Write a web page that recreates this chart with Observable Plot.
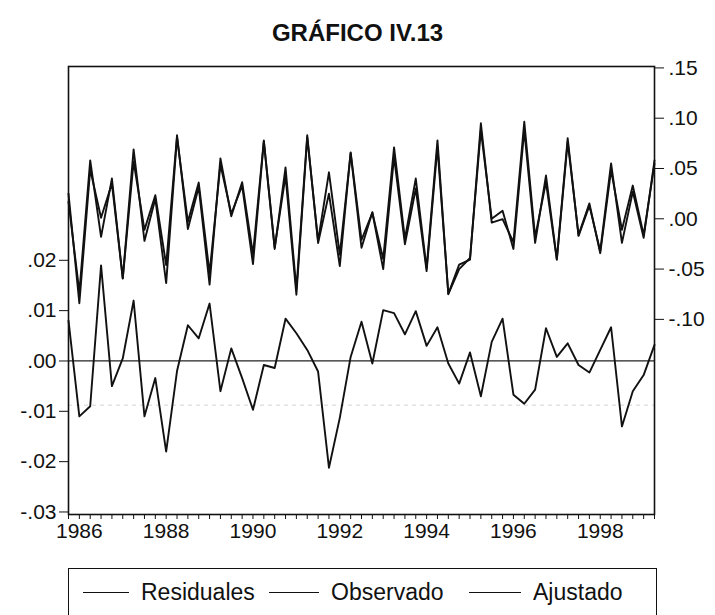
<!DOCTYPE html>
<html>
<head>
<meta charset="utf-8">
<script src="https://cdn.jsdelivr.net/npm/d3@7"></script>
<script src="https://cdn.jsdelivr.net/npm/@observablehq/plot@0.6"></script>
<style>
  html, body { margin: 0; padding: 0; background: #fff; }
  #wrap { position: relative; width: 715px; height: 615px; overflow: hidden; font-family: "Liberation Sans", Arial, sans-serif; }
  #title { position: absolute; top: 19px; left: 0; width: 715px; text-align: center; font-weight: bold; font-size: 24px; line-height: 28px; color: #111; }
  #chart { position: absolute; top: 0; left: 0; }
  #legend { position: absolute; left: 68px; top: 568px; width: 587px; height: 60px; border: 1.5px solid #111; }
  .item { position: absolute; top: 10px; display: flex; align-items: center; font-size: 23px; color: #111; }
  .swatch { display: inline-block; height: 0; border-top: 1.3px solid #111; margin-right: 12px; }
</style>
</head>
<body>
<div id="wrap">
  <div id="title">GRÁFICO IV.13</div>
  <div id="chart"></div>
  <div id="legend"></div>
</div>
<script>
// Quarterly sample: 1985Q4 .. 1999Q2
const startYear = 1985, startQuarter = 4;

const observed = [0.025, -0.084, 0.049, 0.001, 0.035, -0.059, 0.069, -0.022, 0.020, -0.064,
  0.081, -0.003, 0.036, -0.054, 0.054, 0.005, 0.033, -0.045, 0.077, -0.030,
  0.051, -0.070, 0.083, -0.024, 0.025, -0.047, 0.066, -0.021, 0.006, -0.040,
  0.071, -0.020, 0.040, -0.049, 0.078, -0.075, -0.050, -0.039, 0.088, 0.000,
  0.008, -0.030, 0.088, -0.024, 0.043, -0.040, 0.080, -0.017, 0.013, -0.032,
  0.055, -0.024, 0.027, -0.019, 0.058];

const fitted = [0.017, -0.073, 0.058, -0.018, 0.040, -0.0595, 0.057, -0.011, 0.0234, -0.046,
  0.083, -0.0101, 0.0315, -0.0654, 0.060, 0.0025, 0.0364, -0.0353, 0.0778, -0.0286,
  0.0426, -0.0755, 0.0808, -0.0219, 0.0462, -0.0357, 0.0652, -0.0288, 0.0065, -0.0501,
  0.0615, -0.0253, 0.0301, -0.052, 0.0713, -0.0745, -0.0455, -0.0407, 0.095, -0.0038,
  -0.0004, -0.0233, 0.0965, -0.0183, 0.0365, -0.0408, 0.0765, -0.0162, 0.0153, -0.0342,
  0.0483, -0.011, 0.033, -0.0162, 0.0548];

const residuals = [0.008, -0.011, -0.009, 0.019, -0.005, 0.0005, 0.012, -0.011, -0.0034, -0.018,
  -0.002, 0.0071, 0.0045, 0.0114, -0.006, 0.0025, -0.0034, -0.0097, -0.0008, -0.0014,
  0.0084, 0.0055, 0.0022, -0.0021, -0.0212, -0.0113, 0.0008, 0.0078, -0.0005, 0.0101,
  0.0095, 0.0053, 0.0099, 0.0030, 0.0067, -0.0005, -0.0045, 0.0017, -0.0070, 0.0038,
  0.0084, -0.0067, -0.0085, -0.0057, 0.0065, 0.0008, 0.0035, -0.0008, -0.0023, 0.0022,
  0.0067, -0.013, -0.006, -0.0028, 0.0032];

const leftTicks = [0.02, 0.01, 0.00, -0.01, -0.02, -0.03];
const rightTicks = [0.15, 0.10, 0.05, 0.00, -0.05, -0.10];
const yearLabels = [1986, 1988, 1990, 1992, 1994, 1996, 1998];
const bandLines = [-0.0088];
const legendLabels = ["Residuales", "Observado", "Ajustado"];

const leftDomain = [-0.0305, 0.0585];
const rightDomain = [-0.294, 0.1514];
const toLeft = d3.scaleLinear(rightDomain, leftDomain);

const quarters = observed.map((_, i) => startYear + (startQuarter - 1 + i) / 4);
const rows = quarters.map((t, i) => ({
  t,
  obs: toLeft(observed[i]),
  fit: toLeft(fitted[i]),
  res: residuals[i]
}));

const fmt = v => {
  const s = (Math.round(v * 100) / 100).toFixed(2);
  return s.replace(/^(-?)0\./, "$1.");
};

const chart = Plot.plot({
  width: 715,
  height: 560,
  marginTop: 66,
  marginBottom: 46,
  marginLeft: 68,
  marginRight: 61,
  style: { fontFamily: "Liberation Sans, Arial, sans-serif", fontSize: "21px", color: "#111", background: "transparent" },
  x: { domain: [quarters[0], quarters[quarters.length - 1]], label: null },
  y: { domain: leftDomain, label: null },
  marks: [
    Plot.ruleY(bandLines, { stroke: "#e2e2e2", strokeDasharray: "4,4", strokeWidth: 1.5 }),
    Plot.ruleY([0], { stroke: "#222", strokeWidth: 1.2 }),
    Plot.line(rows, { x: "t", y: "res", stroke: "#111", strokeWidth: 1.9 }),
    Plot.line(rows, { x: "t", y: "fit", stroke: "#111", strokeWidth: 1.9 }),
    Plot.line(rows, { x: "t", y: "obs", stroke: "#111", strokeWidth: 1.9 }),
    Plot.frame({ stroke: "#111", strokeWidth: 1.6 }),
    Plot.axisY(leftTicks, { anchor: "left", tickSize: 9, tickPadding: 3, tickFormat: fmt, stroke: "#111", label: null }),
    Plot.axisY(rightTicks.map(toLeft), { anchor: "right", tickSize: 9, tickPadding: 5, tickFormat: d => fmt(toLeft.invert(d)), stroke: "#111", label: null }),
    Plot.axisX(quarters, { anchor: "bottom", tickSize: 5, tickFormat: () => "", stroke: "#111", label: null }),
    Plot.axisX(yearLabels, { anchor: "bottom", tickSize: 0, tickPadding: 9, tickFormat: d => String(d), label: null })
  ]
});
document.getElementById("chart").appendChild(chart);

// Legend
const legend = document.getElementById("legend");
const positions = [[14, 46], [200, 50], [400, 52]];
legendLabels.forEach((lab, i) => {
  const it = document.createElement("div");
  it.className = "item";
  it.style.left = positions[i][0] + "px";
  const sw = document.createElement("span");
  sw.className = "swatch";
  sw.style.width = positions[i][1] + "px";
  it.appendChild(sw);
  it.appendChild(document.createTextNode(lab));
  legend.appendChild(it);
});
</script>
</body>
</html>
